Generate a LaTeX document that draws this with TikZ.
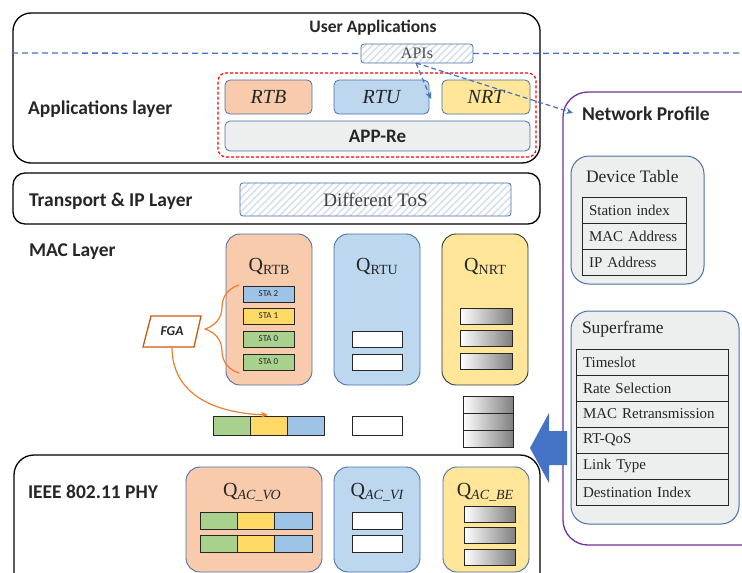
\documentclass[tikz,border=0pt]{standalone}
\usepackage{fontspec}
\setmainfont{Liberation Serif}
\newfontfamily\calfont{Carlito}
\usetikzlibrary{arrows.meta,patterns.meta,decorations.pathreplacing}
\definecolor{peach}{HTML}{F8CBAD}
\definecolor{lblue}{HTML}{BDD7EE}
\definecolor{lyel}{HTML}{FFE699}
\definecolor{bblue}{HTML}{4A6FA8}
\definecolor{dblue}{HTML}{4472C4}
\definecolor{stab}{HTML}{9DC3E6}
\definecolor{stay}{HTML}{FFD966}
\definecolor{stag}{HTML}{A9D18E}
\definecolor{lgray}{HTML}{EDEFEF}
\definecolor{purp}{HTML}{7030A0}
\definecolor{org}{HTML}{ED7D31}
\definecolor{brn}{HTML}{C55A11}
\definecolor{txt}{HTML}{262626}
\newcommand{\fs}[1]{\fontsize{#1}{#1}\selectfont}
\newcommand{\qlab}[1]{{\fs{20}Q}{\fs{14}\raisebox{-3pt}{#1}}}
\begin{document}
\begin{tikzpicture}[x=1pt,y=-1pt,
  every node/.style={inner sep=0pt, outer sep=0pt, text=txt},
  layerbox/.style={draw=black, line width=1.3pt, rounded corners=18pt},
  lbl/.style={anchor=west, font=\calfont\bfseries\fs{19.5}},
  appbox/.style={draw=bblue, line width=0.8pt, rounded corners=5pt, font=\itshape\fs{20}},
  hatchbox/.style={draw=bblue, line width=0.8pt, rounded corners=3pt,
     pattern={Lines[angle=45,distance=5pt,line width=1.6pt]}, pattern color=bblue!22},
  qbox/.style={draw=bblue, line width=0.9pt, rounded corners=14pt},
  cell/.style={draw=black!85, line width=0.9pt},
  stacell/.style={cell, minimum width=51pt, minimum height=16pt, font=\calfont\fs{9}},
  wcell/.style={cell, fill=white, minimum width=50pt},
  gcell/.style={cell, left color=white, right color=black!50},
  dashblue/.style={draw=dblue, line width=1.3pt, dash pattern=on 6pt off 4pt},
  infobox/.style={draw=bblue, line width=1pt, fill=lgray, rounded corners=18pt},
  row/.style={cell, fill=lgray, minimum height=26pt, text width=#1, align=left, font=\fs{15}, inner xsep=7pt},
  infotitle/.style={anchor=west, font=\fs{17.5}}
]
\useasboundingbox (0,0) rectangle (742,573);

% ---------- Application layer ----------
\node[layerbox, minimum width=527pt, minimum height=150pt] (appl) at (276.5,88) {};
\node[font=\calfont\bfseries\fs{17.5}] (userapp) at (373,28) {User Applications};
\node[lbl] (appllbl) at (28,109) {Applications layer};
\node[hatchbox, minimum width=112pt, minimum height=19pt, font=\fs{16}, text=black!70] (apis) at (417,53.5) {APIs};
\coordinate (dl) at (12,53);
\coordinate (dr) at (742,53);
\draw[dashblue] (dl) -- (apis.west);
\draw[dashblue] (apis.east) -- (dr);
\node[draw=red, line width=1.2pt, dash pattern=on 3pt off 2pt, rounded corners=8pt,
      minimum width=318pt, minimum height=84pt] (redbox) at (377,115) {};
\node[appbox, fill=peach, minimum width=87pt, minimum height=34pt] (rtb) at (268.5,97) {RTB};
\node[appbox, fill=lblue, minimum width=95pt, minimum height=34pt] (rtu) at (381.5,97) {RTU};
\node[appbox, fill=lyel, minimum width=88pt, minimum height=34pt] (nrt) at (486,97) {NRT};
\node[appbox, fill=lgray, minimum width=305pt, minimum height=30pt, font=\calfont\bfseries\fs{19}] (appre) at (377.5,136) {APP-Re};

% ---------- Transport ----------
\node[layerbox, rounded corners=12pt, minimum width=527pt, minimum height=51pt] (trans) at (276.5,198.5) {};
\node[lbl] (translbl) at (29,201) {Transport \& IP Layer};
\node[hatchbox, minimum width=271pt, minimum height=33pt, font=\fs{19}, text=black!75] (tos) at (375.5,199.5) {Different ToS};

% ---------- MAC ----------
\node[lbl] (maclbl) at (29,252) {MAC Layer};
\node[qbox, fill=peach, minimum width=86pt, minimum height=151pt] (qrtb) at (269,309.5) {};
\node[qbox, fill=lblue, minimum width=86pt, minimum height=151pt] (qrtu) at (377,309.5) {};
\node[qbox, draw=black!80, fill=lyel, minimum width=86pt, minimum height=151pt] (qnrt) at (485,309.5) {};
\node (qrtbl) at (269,266) {\qlab{RTB}};
\node (qrtul) at (377,266) {\qlab{RTU}};
\node (qnrtl) at (485,266) {\qlab{NRT}};
\node[stacell, fill=stab] (s1) at (268.5,294) {STA 2};
\node[stacell, fill=stay] (s2) at (268.5,316) {STA 1};
\node[stacell, fill=stag] (s3) at (268.5,339) {STA 0};
\node[stacell, fill=stag] (s4) at (268.5,362) {STA 0};
\node[wcell, minimum height=16pt] (u1) at (377,339) {};
\node[wcell, minimum height=16pt] (u2) at (377,362) {};
\node[gcell, minimum width=52pt, minimum height=16pt] (n1) at (486,316) {};
\node[gcell, minimum width=52pt, minimum height=16pt] (n2) at (486,338) {};
\node[gcell, minimum width=52pt, minimum height=16pt] (n3) at (486,361) {};

% output row
\node[cell, fill=stag, minimum width=37pt, minimum height=19pt] (b1) at (231.5,425.5) {};
\node[cell, fill=stay, minimum width=37pt, minimum height=19pt] (b2) at (268.5,425.5) {};
\node[cell, fill=stab, minimum width=37pt, minimum height=19pt] (b3) at (305.5,425.5) {};
\node[wcell, minimum height=19pt] (bw) at (377,426) {};
\node[gcell, minimum width=50pt, minimum height=17pt] (k1) at (488,404.5) {};
\node[gcell, minimum width=50pt, minimum height=17pt] (k2) at (488,421.5) {};
\node[gcell, minimum width=50pt, minimum height=17pt] (k3) at (488,438.5) {};

% FGA
\draw[brn, line width=1.3pt, fill=white] (151,316) -- (201,316) -- (194,347) -- (143,347) -- cycle;
\node[minimum width=50pt, minimum height=31pt, font=\calfont\bfseries\itshape\fs{13.5}] (fga) at (172,331.5) {FGA};
\draw[org, line width=1.2pt, decorate, decoration={brace, amplitude=34pt}] (239,373) -- (239,285);
\coordinate (fgatip) at (268,415);
\draw[org, line width=1.2pt, -{Stealth[length=7pt,width=6pt]}] (fga.south) .. controls (172,395) and (215,413) .. (fgatip);

% ---------- PHY ----------
\node[layerbox, rounded corners=20pt, minimum width=526pt, minimum height=150pt] (phy) at (277,530) {};
\node[lbl] (phylbl) at (28,492) {IEEE 802.11 PHY};
\node[qbox, fill=peach, minimum width=136pt, minimum height=105pt] (qvo) at (254,519.5) {};
\node[qbox, fill=lblue, minimum width=86pt, minimum height=105pt] (qvi) at (377,519.5) {};
\node[qbox, fill=lyel, minimum width=86pt, minimum height=105pt] (qbe) at (486,519.5) {};
\node (qvol) at (252,492) {\qlab{\itshape AC\_VO}};
\node (qvil) at (377,492) {\qlab{\itshape AC\_VI}};
\node (qbel) at (485,492) {\qlab{\itshape AC\_BE}};
\foreach \y/\n in {521/a,544/b}{
  \node[cell, fill=stag, minimum width=37.3pt, minimum height=17pt] (v1\n) at (218.7,\y) {};
  \node[cell, fill=stay, minimum width=37.3pt, minimum height=17pt] (v2\n) at (256,\y) {};
  \node[cell, fill=stab, minimum width=37.3pt, minimum height=17pt] (v3\n) at (293.3,\y) {};
}
\node[wcell, minimum height=17pt] (vi1) at (377,520.5) {};
\node[wcell, minimum height=17pt] (vi2) at (377,543.5) {};
\node[gcell, minimum width=51pt, minimum height=16pt] (be1) at (489.5,514) {};
\node[gcell, minimum width=51pt, minimum height=16pt] (be2) at (489.5,535.5) {};
\node[gcell, minimum width=51pt, minimum height=16pt] (be3) at (489.5,557.5) {};

% ---------- Network profile ----------
\node[draw=purp, line width=1.3pt, rounded corners=25pt, minimum width=207pt, minimum height=453pt] (np) at (666.5,318.5) {};
\node[anchor=west, font=\calfont\bfseries\fs{19.5}] (nplbl) at (582,114) {Network Profile};
\node[infobox, minimum width=133pt, minimum height=128pt] (dev) at (637.5,220) {};
\node[infotitle] (devlbl) at (586,177) {Device Table};
\node[row=90pt] (d1) at (634,210) {\mbox{Station index}};
\node[row=90pt] (d2) at (634,236) {\mbox{MAC Address}};
\node[row=90pt] (d3) at (634,262) {\mbox{IP Address}};
\node[infobox, minimum width=168pt, minimum height=213pt] (sf) at (655,417.5) {};
\node[infotitle] (sflbl) at (582,329) {Superframe};
\node[row=138pt] (r1) at (652,362) {Timeslot};
\node[row=138pt] (r2) at (652,388) {Rate Selection};
\node[row=138pt] (r3) at (652,414) {\mbox{MAC Retransmission}};
\node[row=138pt] (r4) at (652,440) {RT-QoS};
\node[row=138pt] (r5) at (652,466) {Link Type};
\node[row=138pt] (r6) at (652,492) {\mbox{Destination Index}};

% big blue arrow
\fill[dblue] (530,448) -- (549,413) -- (549,431) -- (567,431) -- (567,465) -- (549,465) -- (549,483) -- cycle;

% API arrows
\coordinate (apit1) at (431,99);
\coordinate (apit2) at (573,113);
\draw[dashblue, dash pattern=on 5pt off 3pt, line width=1.2pt, -{Stealth[length=7pt,width=6pt]}] ([xshift=-1pt]apis.south) -- (apit1);
\draw[dashblue, dash pattern=on 5pt off 3pt, line width=1.2pt, -{Stealth[length=7pt,width=6pt]}] ([xshift=-1pt]apis.south) -- (apit2);
\end{tikzpicture}
\end{document}
